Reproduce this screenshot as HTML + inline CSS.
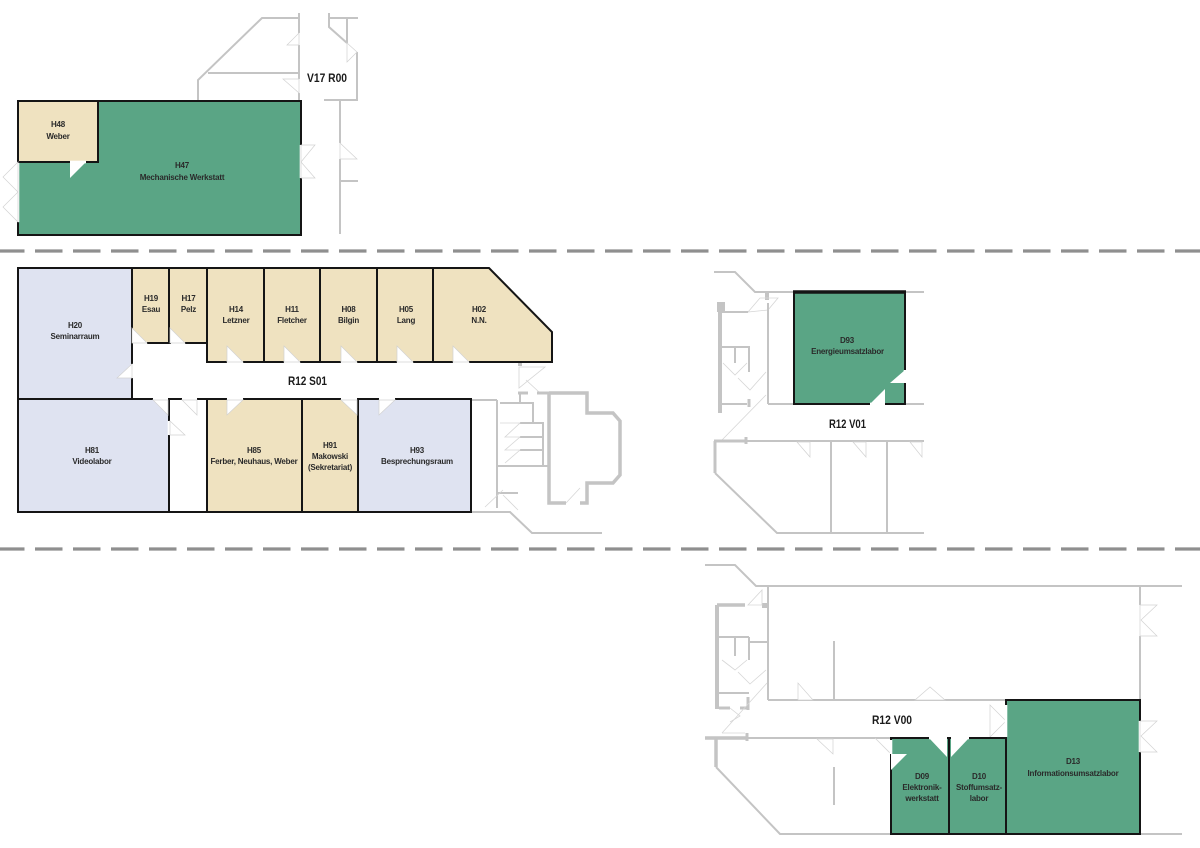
<!DOCTYPE html>
<html><head><meta charset="utf-8"><style>
html,body{margin:0;padding:0;background:#fff;}
svg{display:block;}
.t{font-family:"Liberation Sans",sans-serif;font-size:8px;font-weight:bold;fill:#2a2a2a;text-anchor:middle;letter-spacing:-0.2px;}
.b{font-family:"Liberation Sans",sans-serif;font-size:12px;font-weight:bold;fill:#1a1a1a;}
.g{fill:none;stroke:#c4c4c4;stroke-width:2;}
.gt{fill:none;stroke:#c4c4c4;stroke-width:4;}
.gl{fill:none;stroke:#d6d6d6;stroke-width:0.8;}
.d{fill:#fff;stroke:#d2d2d2;stroke-width:0.7;}
.k{stroke:#151515;stroke-width:2;}
.w{stroke:#fff;stroke-width:2.6;}
</style></head><body>
<svg width="1200" height="848" viewBox="0 0 1200 848" xmlns="http://www.w3.org/2000/svg">
<rect width="1200" height="848" fill="#fff"/>

<!-- dashed separators -->
<line x1="0" y1="251" x2="1200" y2="251" stroke="#8f8f8f" stroke-width="3.2" stroke-dasharray="27.5 10.5" stroke-dashoffset="3"/>
<line x1="0" y1="549" x2="1200" y2="549" stroke="#8f8f8f" stroke-width="3.2" stroke-dasharray="27.5 10.5" stroke-dashoffset="3"/>

<!-- ============ TOP SECTION ============ -->
<polyline class="g" points="198,100 198,80 262,18 299,18"/>
<line class="g" x1="208" y1="73" x2="299" y2="73"/>
<line class="g" x1="299" y1="13" x2="299" y2="33"/>
<line class="g" x1="299" y1="45" x2="299" y2="79"/>
<line class="g" x1="299" y1="93" x2="299" y2="100"/>
<polygon class="d" points="299,33 287,45 299,45"/>
<polygon class="d" points="283,79 299,79 299,93"/>
<polyline class="g" points="329,13 329,27 347,43"/>
<line class="g" x1="328" y1="18" x2="358" y2="18"/>
<line class="g" x1="347" y1="18" x2="347" y2="43"/>
<line class="g" x1="357" y1="52" x2="357" y2="101"/>
<polygon class="d" points="347,43 357,52 347,62"/>
<line class="g" x1="324" y1="100" x2="358" y2="100"/>
<line class="g" x1="340" y1="100" x2="340" y2="143"/>
<line class="g" x1="340" y1="159" x2="340" y2="234"/>
<polygon class="d" points="340,143 357,159 340,159"/>
<line class="g" x1="340" y1="181" x2="358" y2="181"/>
<text class="b" x="307" y="82" textLength="40" lengthAdjust="spacingAndGlyphs">V17 R00</text>

<rect x="18" y="101" width="283" height="134" fill="#5aa585" class="k"/>
<rect x="18" y="101" width="80" height="61" fill="#efe2c0" class="k"/>
<line class="w" x1="70" y1="162" x2="86" y2="162"/>
<polygon class="d" points="70,162 86,162 70,178" style="stroke:none"/>
<line class="w" x1="18" y1="163" x2="18" y2="222"/>
<polygon class="d" points="18,162 3,177 18,192 3,207 18,222"/>
<line class="w" x1="301" y1="145" x2="301" y2="178"/>
<polygon class="d" points="301,145 315,145 301,162 315,178 301,178"/>
<text class="t" x="58" y="127">H48</text>
<text class="t" x="58" y="139">Weber</text>
<text class="t" x="182" y="168">H47</text>
<text class="t" x="182" y="180">Mechanische Werkstatt</text>

<!-- ============ MIDDLE LEFT SECTION ============ -->
<!-- gray structure right -->
<line class="g" x1="471" y1="400" x2="497" y2="400"/>
<line class="g" x1="471" y1="512" x2="500" y2="512"/>
<line class="g" x1="497" y1="400" x2="497" y2="508"/>
<rect x="518" y="361" width="4" height="5" fill="#c4c4c4"/>
<polygon class="gl" points="519,367 545,367 519,388"/>
<line class="gl" x1="526" y1="380" x2="539" y2="392"/>
<line class="gt" x1="518" y1="393" x2="528" y2="393" style="stroke-width:3"/>
<line class="gt" x1="537" y1="393" x2="550" y2="393" style="stroke-width:3"/>
<line class="g" x1="520" y1="392" x2="520" y2="403"/>
<polyline class="g" points="500,403 533,403 533,423 543,423 543,466"/>
<line class="g" x1="520" y1="423" x2="533" y2="423"/>
<line class="g" x1="520" y1="437" x2="543" y2="437"/>
<line class="g" x1="520" y1="450" x2="543" y2="450"/>
<polyline class="gl" points="500,423 520,423 505,437 520,437 505,450 520,450 505,463"/>
<line class="g" x1="497" y1="466" x2="550" y2="466"/>
<line class="g" x1="497" y1="493" x2="518" y2="493"/>
<line class="gl" x1="485" y1="507" x2="503" y2="490"/>
<line class="gl" x1="503" y1="495" x2="518" y2="510"/>
<polyline class="gt" points="549,393 587,393 587,413 613,413 620,421 620,475 613,483 587,483 587,503 580,503" style="stroke-width:3.5"/>
<polyline class="gt" points="549,393 549,503 566,503" style="stroke-width:3.5"/>
<line class="gl" x1="566" y1="503" x2="580" y2="488"/>
<polyline class="g" points="500,512 510,512 532,533 602,533"/>

<!-- rooms -->
<rect x="18" y="268" width="114" height="131" fill="#dfe3f1" class="k"/>
<rect x="18" y="399" width="151" height="113" fill="#dfe3f1" class="k"/>
<rect x="132" y="268" width="37" height="75" fill="#efe2c0" class="k"/>
<rect x="169" y="268" width="38" height="75" fill="#efe2c0" class="k"/>
<rect x="207" y="268" width="57" height="94" fill="#efe2c0" class="k"/>
<rect x="264" y="268" width="56" height="94" fill="#efe2c0" class="k"/>
<rect x="320" y="268" width="57" height="94" fill="#efe2c0" class="k"/>
<rect x="377" y="268" width="56" height="94" fill="#efe2c0" class="k"/>
<polygon points="433,268 489,268 552,332 552,362 433,362" fill="#efe2c0" class="k"/>
<rect x="207" y="399" width="95" height="113" fill="#efe2c0" class="k"/>
<rect x="302" y="399" width="56" height="113" fill="#efe2c0" class="k"/>
<rect x="358" y="399" width="113" height="113" fill="#dfe3f1" class="k"/>
<line class="k" x1="169" y1="512" x2="207" y2="512"/>
<line class="k" x1="132" y1="399" x2="207" y2="399"/>

<!-- doors -->
<line class="w" x1="133" y1="343" x2="147" y2="343"/>
<polygon class="d" points="132,328 132,343 147,343"/>
<line class="w" x1="171" y1="343" x2="185" y2="343"/>
<polygon class="d" points="170,328 170,343 185,343"/>
<line class="w" x1="227" y1="362" x2="243" y2="362"/>
<polygon class="d" points="227,346 227,362 243,362"/>
<line class="w" x1="284" y1="362" x2="300" y2="362"/>
<polygon class="d" points="284,346 284,362 300,362"/>
<line class="w" x1="341" y1="362" x2="357" y2="362"/>
<polygon class="d" points="341,346 341,362 357,362"/>
<line class="w" x1="397" y1="362" x2="413" y2="362"/>
<polygon class="d" points="397,346 397,362 413,362"/>
<line class="w" x1="453" y1="362" x2="469" y2="362"/>
<polygon class="d" points="453,346 453,362 469,362"/>
<line class="w" x1="132" y1="364" x2="132" y2="378"/>
<polygon class="d" points="132,364 117,378 132,378"/>
<line class="w" x1="153" y1="399" x2="168" y2="399"/>
<polygon class="d" points="153,400 168,400 168,415"/>
<line class="w" x1="182" y1="399" x2="197" y2="399"/>
<polygon class="d" points="182,400 197,400 197,415"/>
<line class="w" x1="169" y1="421" x2="169" y2="435"/>
<polygon class="d" points="170,421 185,435 170,435"/>
<line class="w" x1="227" y1="399" x2="243" y2="399"/>
<polygon class="d" points="227,400 243,400 227,415"/>
<line class="w" x1="341" y1="399" x2="357" y2="399"/>
<polygon class="d" points="341,400 357,400 357,415"/>
<line class="w" x1="379" y1="399" x2="395" y2="399"/>
<polygon class="d" points="379,400 395,400 379,415"/>

<text class="b" x="288" y="385" textLength="39" lengthAdjust="spacingAndGlyphs">R12 S01</text>
<text class="t" x="75" y="328">H20</text>
<text class="t" x="75" y="339">Seminarraum</text>
<text class="t" x="92" y="453">H81</text>
<text class="t" x="92" y="464">Videolabor</text>
<text class="t" x="151" y="301">H19</text>
<text class="t" x="151" y="312">Esau</text>
<text class="t" x="188.5" y="301">H17</text>
<text class="t" x="188.5" y="312">Pelz</text>
<text class="t" x="236" y="312">H14</text>
<text class="t" x="236" y="323">Letzner</text>
<text class="t" x="292" y="312">H11</text>
<text class="t" x="292" y="323">Fletcher</text>
<text class="t" x="348.5" y="312">H08</text>
<text class="t" x="348.5" y="323">Bilgin</text>
<text class="t" x="406" y="312">H05</text>
<text class="t" x="406" y="323">Lang</text>
<text class="t" x="479" y="312">H02</text>
<text class="t" x="479" y="323">N.N.</text>
<text class="t" x="254" y="453">H85</text>
<text class="t" x="254" y="464">Ferber, Neuhaus, Weber</text>
<text class="t" x="330" y="448">H91</text>
<text class="t" x="330" y="459">Makowski</text>
<text class="t" x="330" y="470">(Sekretariat)</text>
<text class="t" x="417" y="453">H93</text>
<text class="t" x="417" y="464">Besprechungsraum</text>

<!-- ============ MIDDLE RIGHT SECTION ============ -->
<polyline class="g" points="714,272 735,272 755,292 924,292"/>
<rect x="765" y="293" width="4" height="7" fill="#c4c4c4"/>
<polygon class="gl" points="748,312 760,298 778,298 768,310"/>
<line class="g" x1="768" y1="303" x2="768" y2="404"/>
<rect x="717" y="302" width="8" height="10" fill="#c4c4c4"/>
<line class="gt" x1="720" y1="302" x2="720" y2="413"/>
<line class="g" x1="720" y1="312" x2="748" y2="312"/>
<line class="g" x1="722" y1="347" x2="750" y2="347"/>
<line class="g" x1="735" y1="347" x2="735" y2="363"/>
<line class="g" x1="749" y1="347" x2="749" y2="372"/>
<polyline class="gl" points="723,363 735,375 747,363"/>
<polyline class="gl" points="738,378 750,390 766,372"/>
<line class="g" x1="722" y1="404" x2="747" y2="404"/>
<line class="gt" x1="749" y1="399" x2="749" y2="407" style="stroke-width:3"/>
<line class="gl" x1="722" y1="440" x2="766" y2="395"/>
<line class="gl" x1="722" y1="440" x2="745" y2="440"/>
<line class="g" x1="768" y1="404" x2="924" y2="404"/>
<polyline class="gt" points="714,441 745,441" style="stroke-width:3"/>
<line class="gt" x1="746" y1="437" x2="746" y2="444" style="stroke-width:3"/>
<line class="g" x1="745" y1="441" x2="924" y2="441"/>
<polyline class="gt" points="715,441 715,473" style="stroke-width:3"/>
<polyline class="g" points="715,473 777,533 924,533"/>
<line class="g" x1="831" y1="441" x2="831" y2="533"/>
<line class="g" x1="887" y1="441" x2="887" y2="533"/>
<polygon class="d" points="797,442 810,457 810,442"/>
<polygon class="d" points="853,442 866,457 866,442"/>
<polygon class="d" points="910,442 922,457 922,442"/>

<rect x="794" y="292" width="111" height="112" fill="#5aa585" class="k"/>
<line x1="793" y1="292" x2="906" y2="292" stroke="#151515" stroke-width="3.5"/>
<line class="w" x1="905" y1="370" x2="905" y2="383"/>
<polygon class="d" points="890,383 905,370 905,383" style="stroke:none"/>
<line class="w" x1="870" y1="404" x2="885" y2="404"/>
<polygon class="d" points="870,404 885,389 885,404" style="stroke:none"/>
<text class="t" x="847" y="343">D93</text>
<text class="t" x="847.5" y="354">Energieumsatzlabor</text>
<text class="b" x="829" y="428" textLength="37" lengthAdjust="spacingAndGlyphs">R12 V01</text>

<!-- ============ BOTTOM RIGHT SECTION ============ -->
<polyline class="g" points="705,565 735,565 756,586 1182,586"/>
<rect x="762" y="603" width="6" height="5" fill="#c4c4c4"/>
<polygon class="gl" points="748,605 762,590 762,605"/>
<line class="g" x1="768" y1="586" x2="768" y2="700"/>
<line class="gt" x1="717" y1="605" x2="717" y2="709"/>
<line class="gt" x1="717" y1="605" x2="745" y2="605" style="stroke-width:3.5"/>
<line class="g" x1="719" y1="637" x2="749" y2="637"/>
<line class="g" x1="749" y1="637" x2="749" y2="660"/>
<line class="g" x1="735" y1="637" x2="735" y2="656"/>
<line class="g" x1="749" y1="642" x2="768" y2="642"/>
<polyline class="gl" points="722,660 735,670 747,660"/>
<polyline class="gl" points="738,672 750,684 766,670"/>
<line class="g" x1="719" y1="693" x2="749" y2="693"/>
<line class="gt" x1="719" y1="708" x2="730" y2="708" style="stroke-width:3"/>
<line class="gt" x1="740" y1="708" x2="748" y2="708" style="stroke-width:3"/>
<line class="gt" x1="748" y1="697" x2="748" y2="710" style="stroke-width:3"/>
<line class="gl" x1="722" y1="733" x2="767" y2="683"/>
<line class="gl" x1="722" y1="733" x2="745" y2="733"/>
<polyline class="gl" points="730,708 740,716 730,722"/>
<line class="g" x1="834" y1="641" x2="834" y2="700"/>
<line class="g" x1="768" y1="700" x2="1006" y2="700"/>
<polygon class="d" points="798,683 798,700 813,700"/>
<polygon class="d" points="915,700 930,687 945,700"/>
<polygon class="d" points="990,705 1006,721 990,737"/>
<line class="g" x1="1140" y1="586" x2="1140" y2="700"/>
<line class="w" x1="1140" y1="605" x2="1140" y2="636"/>
<polygon class="d" points="1140,605 1157,605 1141,620 1157,636 1140,636"/>
<line class="g" x1="1140" y1="834" x2="1182" y2="834"/>

<line class="gt" x1="705" y1="738" x2="747" y2="738" style="stroke-width:3.5"/>
<line class="gt" x1="747" y1="733" x2="747" y2="741" style="stroke-width:3"/>
<line class="g" x1="747" y1="738" x2="891" y2="738"/>
<line class="gt" x1="716" y1="738" x2="716" y2="767" style="stroke-width:3.5"/>
<polyline class="g" points="716,767 780,834 891,834"/>
<line class="g" x1="834" y1="767" x2="834" y2="805"/>
<polygon class="d" points="817,739 833,754 833,739"/>
<line class="gl" x1="875" y1="738" x2="891" y2="754"/>

<rect x="891" y="738" width="58" height="96" fill="#5aa585" class="k"/>
<rect x="949" y="738" width="57" height="96" fill="#5aa585" class="k"/>
<rect x="1006" y="700" width="134" height="134" fill="#5aa585" class="k"/>
<line class="w" x1="891" y1="740" x2="891" y2="754"/>
<polygon class="d" points="891,754 907,754 891,770" style="stroke:none"/>
<line class="w" x1="929" y1="738" x2="947" y2="738"/>
<polygon class="d" points="929,738 947,738 947,757" style="stroke:none"/>
<line class="w" x1="951" y1="738" x2="969" y2="738"/>
<polygon class="d" points="951,738 969,738 951,757" style="stroke:none"/>
<line class="w" x1="1006" y1="705" x2="1006" y2="737"/>
<line class="w" x1="1140" y1="721" x2="1140" y2="752"/>
<polygon class="d" points="1140,721 1157,721 1141,736 1157,752 1140,752"/>

<text class="b" x="872" y="724" textLength="40" lengthAdjust="spacingAndGlyphs">R12 V00</text>
<text class="t" x="922" y="779">D09</text>
<text class="t" x="922" y="790">Elektronik-</text>
<text class="t" x="922" y="801">werkstatt</text>
<text class="t" x="979" y="779">D10</text>
<text class="t" x="979" y="790">Stoffumsatz-</text>
<text class="t" x="979" y="801">labor</text>
<text class="t" x="1073" y="764">D13</text>
<text class="t" x="1073" y="776">Informationsumsatzlabor</text>
</svg>
</body></html>
